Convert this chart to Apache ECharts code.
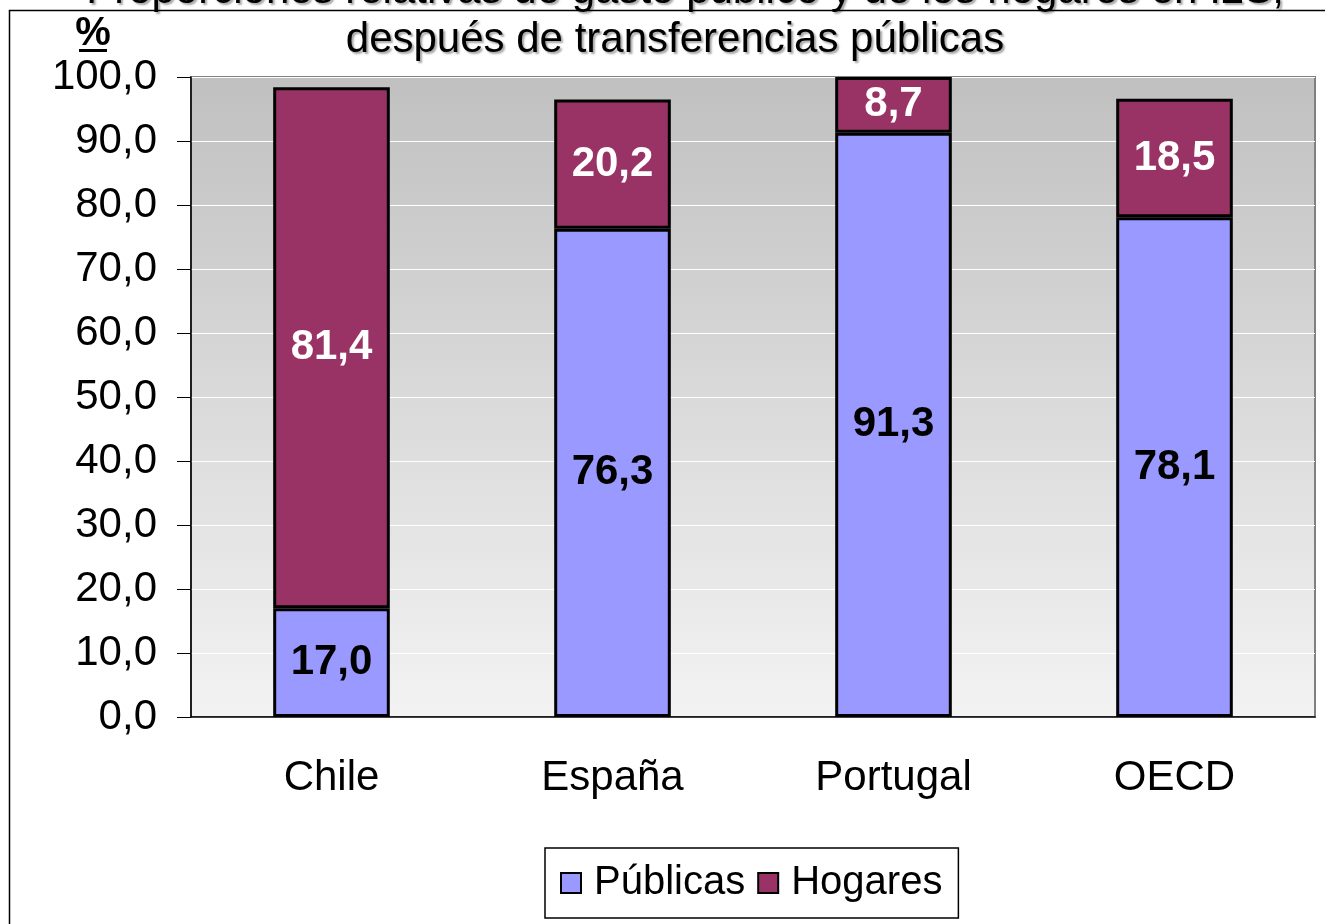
<!DOCTYPE html>
<html>
<head>
<meta charset="utf-8">
<script src="https://cdn.jsdelivr.net/npm/echarts@6/dist/echarts.min.js"></script>
<style>
  html, body { margin: 0; padding: 0; background: #fff; }
  #chart { width: 1325px; height: 924px; }
</style>
</head>
<body>
<div id="chart"></div>
<script>
// datos
const paises = ['Chile', 'España', 'Portugal', 'OECD'];
const publicas = [17.0, 76.3, 91.3, 78.1];
const hogares = [81.4, 20.2, 8.7, 18.5];
const serieNombres = ['Públicas', 'Hogares'];

const fuente = 'Liberation Sans, Arial, sans-serif';
const coma = v => Number(v).toFixed(1).replace('.', ',');

let chart = echarts.init(document.getElementById('chart'));
let option = {
  animation: false,
  color: ['#9999ff', '#993366'],
  textStyle: { fontFamily: fuente },
  grid: {
    left: 191, right: 10, top: 77, bottom: 207,
    show: true,
    borderColor: '#808080',
    borderWidth: 2,
    backgroundColor: new echarts.graphic.LinearGradient(0, 0, 0, 1, [
      { offset: 0, color: '#c0c0c0' },
      { offset: 1, color: '#f3f3f3' }
    ])
  },
  legend: {
    left: 545, top: 848,
    padding: [15, 16, 15, 15],
    backgroundColor: '#fff',
    borderColor: '#000',
    borderWidth: 1.5,
    borderRadius: 0,
    itemWidth: 20, itemHeight: 20,
    itemGap: 12,
    icon: 'rect',
    textStyle: { fontSize: 40, color: '#000', fontFamily: fuente, padding: [0, 0, 0, 8] },
    data: serieNombres
  },
  xAxis: {
    type: 'category',
    data: paises,
    axisLine: { lineStyle: { color: '#000', width: 1.5 } },
    axisTick: { length: 14, alignWithLabel: false, lineStyle: { color: '#000' } },
    axisLabel: { fontSize: 42, color: '#000', margin: 40, fontFamily: fuente }
  },
  yAxis: {
    type: 'value',
    min: 0, max: 100, interval: 10,
    axisLine: { show: true, lineStyle: { color: '#000', width: 1.5 } },
    axisTick: { show: true, length: 14, lineStyle: { color: '#000' } },
    axisLabel: { fontSize: 42, color: '#000', margin: 34, formatter: coma, fontFamily: fuente },
    splitLine: { lineStyle: { color: '#ffffff', width: 1 } }
  },
  series: [{
    name: serieNombres[0],
    type: 'bar',
    stack: 'total',
    barWidth: '41.5%',
    data: publicas,
    itemStyle: { borderColor: '#000', borderWidth: 3 },
    label: {
      show: true, position: 'inside', formatter: p => coma(p.value),
      fontSize: 42, fontWeight: 'bold', color: '#000', fontFamily: fuente
    }
  }, {
    name: serieNombres[1],
    type: 'bar',
    stack: 'total',
    barWidth: '41.5%',
    data: hogares,
    itemStyle: { borderColor: '#000', borderWidth: 3 },
    label: {
      show: true, position: 'inside', formatter: p => coma(p.value),
      fontSize: 42, fontWeight: 'bold', color: '#fff', fontFamily: fuente
    }
  }],
  graphic: [{
    type: 'rect', z: 0, silent: true,
    shape: { x: 9.5, y: 10.5, width: 1400, height: 1000 },
    style: { fill: 'none', stroke: '#000', lineWidth: 1.5 }
  }, {
    type: 'text', z: 10, x: 685, y: -9,
    style: {
      text: 'Proporciones relativas de gasto público y de los hogares en I2S,',
      font: '42px ' + fuente, fill: '#000', align: 'center', verticalAlign: 'middle',
      textShadowColor: 'rgba(0,0,0,0.35)', textShadowOffsetX: 2, textShadowOffsetY: 2, textShadowBlur: 2
    }
  }, {
    type: 'text', z: 10, x: 675, y: 40,
    style: {
      text: 'después de transferencias públicas',
      font: '42px ' + fuente, fill: '#000', align: 'center', verticalAlign: 'middle',
      textShadowColor: 'rgba(0,0,0,0.35)', textShadowOffsetX: 2, textShadowOffsetY: 2, textShadowBlur: 2
    }
  }, {
    type: 'text', z: 10, x: 93, y: 34,
    style: {
      text: '%', font: 'bold 40px ' + fuente, fill: '#000', align: 'center', verticalAlign: 'middle'
    }
  }, {
    type: 'rect', z: 10,
    shape: { x: 79, y: 49, width: 28, height: 3 },
    style: { fill: '#000' }
  }]
};
chart.setOption(option);
</script>
</body>
</html>
